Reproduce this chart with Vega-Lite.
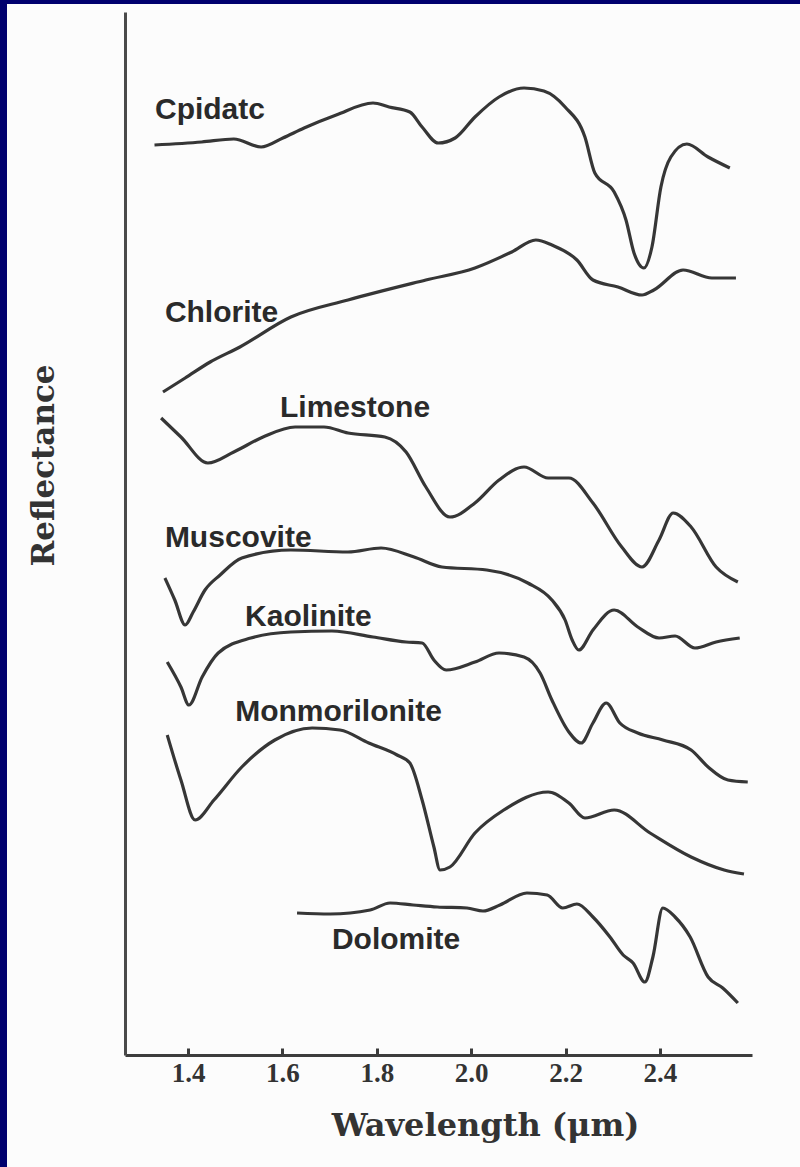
{
  "$schema": "https://vega.github.io/schema/vega-lite/v6.json",
  "width": 793,
  "height": 1163,
  "autosize": {"type": "none"},
  "padding": {"left": 7, "top": 4, "right": 0, "bottom": 0},
  "background": "#00006e",
  "config": {"view": {"fill": "#fcfcfc", "stroke": null}},
  "datasets": {
    "spectra": [
      {"mineral": "Cpidatc", "wavelength": 1.329, "reflectance": 91.0},
      {"mineral": "Cpidatc", "wavelength": 1.429, "reflectance": 91.3},
      {"mineral": "Cpidatc", "wavelength": 1.497, "reflectance": 91.6},
      {"mineral": "Cpidatc", "wavelength": 1.555, "reflectance": 90.8},
      {"mineral": "Cpidatc", "wavelength": 1.601, "reflectance": 91.7},
      {"mineral": "Cpidatc", "wavelength": 1.646, "reflectance": 92.7},
      {"mineral": "Cpidatc", "wavelength": 1.714, "reflectance": 94.0},
      {"mineral": "Cpidatc", "wavelength": 1.792, "reflectance": 95.2},
      {"mineral": "Cpidatc", "wavelength": 1.826, "reflectance": 94.8},
      {"mineral": "Cpidatc", "wavelength": 1.870, "reflectance": 94.3},
      {"mineral": "Cpidatc", "wavelength": 1.896, "reflectance": 92.8},
      {"mineral": "Cpidatc", "wavelength": 1.930, "reflectance": 91.2},
      {"mineral": "Cpidatc", "wavelength": 1.966, "reflectance": 91.7},
      {"mineral": "Cpidatc", "wavelength": 2.008, "reflectance": 93.8},
      {"mineral": "Cpidatc", "wavelength": 2.059, "reflectance": 95.8},
      {"mineral": "Cpidatc", "wavelength": 2.112, "reflectance": 96.7},
      {"mineral": "Cpidatc", "wavelength": 2.154, "reflectance": 96.4},
      {"mineral": "Cpidatc", "wavelength": 2.199, "reflectance": 94.8},
      {"mineral": "Cpidatc", "wavelength": 2.241, "reflectance": 91.8},
      {"mineral": "Cpidatc", "wavelength": 2.262, "reflectance": 88.2},
      {"mineral": "Cpidatc", "wavelength": 2.303, "reflectance": 86.3},
      {"mineral": "Cpidatc", "wavelength": 2.328, "reflectance": 83.5},
      {"mineral": "Cpidatc", "wavelength": 2.345, "reflectance": 80.2},
      {"mineral": "Cpidatc", "wavelength": 2.366, "reflectance": 78.7},
      {"mineral": "Cpidatc", "wavelength": 2.383, "reflectance": 80.8},
      {"mineral": "Cpidatc", "wavelength": 2.402, "reflectance": 86.8},
      {"mineral": "Cpidatc", "wavelength": 2.423, "reflectance": 89.8},
      {"mineral": "Cpidatc", "wavelength": 2.457, "reflectance": 91.1},
      {"mineral": "Cpidatc", "wavelength": 2.502, "reflectance": 89.8},
      {"mineral": "Cpidatc", "wavelength": 2.548, "reflectance": 88.7},

      {"mineral": "Chlorite", "wavelength": 1.347, "reflectance": 66.3},
      {"mineral": "Chlorite", "wavelength": 1.394, "reflectance": 67.7},
      {"mineral": "Chlorite", "wavelength": 1.447, "reflectance": 69.3},
      {"mineral": "Chlorite", "wavelength": 1.510, "reflectance": 70.8},
      {"mineral": "Chlorite", "wavelength": 1.618, "reflectance": 73.8},
      {"mineral": "Chlorite", "wavelength": 1.739, "reflectance": 75.5},
      {"mineral": "Chlorite", "wavelength": 1.904, "reflectance": 77.5},
      {"mineral": "Chlorite", "wavelength": 2.008, "reflectance": 78.7},
      {"mineral": "Chlorite", "wavelength": 2.086, "reflectance": 80.3},
      {"mineral": "Chlorite", "wavelength": 2.137, "reflectance": 81.5},
      {"mineral": "Chlorite", "wavelength": 2.171, "reflectance": 81.0},
      {"mineral": "Chlorite", "wavelength": 2.224, "reflectance": 79.5},
      {"mineral": "Chlorite", "wavelength": 2.258, "reflectance": 77.5},
      {"mineral": "Chlorite", "wavelength": 2.311, "reflectance": 76.8},
      {"mineral": "Chlorite", "wavelength": 2.362, "reflectance": 76.0},
      {"mineral": "Chlorite", "wavelength": 2.387, "reflectance": 76.5},
      {"mineral": "Chlorite", "wavelength": 2.449, "reflectance": 78.5},
      {"mineral": "Chlorite", "wavelength": 2.510, "reflectance": 77.7},
      {"mineral": "Chlorite", "wavelength": 2.561, "reflectance": 77.7},

      {"mineral": "Limestone", "wavelength": 1.343, "reflectance": 63.7},
      {"mineral": "Limestone", "wavelength": 1.385, "reflectance": 61.8},
      {"mineral": "Limestone", "wavelength": 1.442, "reflectance": 59.2},
      {"mineral": "Limestone", "wavelength": 1.497, "reflectance": 60.3},
      {"mineral": "Limestone", "wavelength": 1.559, "reflectance": 61.8},
      {"mineral": "Limestone", "wavelength": 1.627, "reflectance": 62.8},
      {"mineral": "Limestone", "wavelength": 1.688, "reflectance": 62.8},
      {"mineral": "Limestone", "wavelength": 1.739, "reflectance": 62.2},
      {"mineral": "Limestone", "wavelength": 1.817, "reflectance": 61.8},
      {"mineral": "Limestone", "wavelength": 1.862, "reflectance": 60.3},
      {"mineral": "Limestone", "wavelength": 1.904, "reflectance": 56.8},
      {"mineral": "Limestone", "wavelength": 1.955, "reflectance": 53.8},
      {"mineral": "Limestone", "wavelength": 2.008, "reflectance": 55.2},
      {"mineral": "Limestone", "wavelength": 2.059, "reflectance": 57.5},
      {"mineral": "Limestone", "wavelength": 2.112, "reflectance": 58.8},
      {"mineral": "Limestone", "wavelength": 2.163, "reflectance": 57.7},
      {"mineral": "Limestone", "wavelength": 2.207, "reflectance": 57.7},
      {"mineral": "Limestone", "wavelength": 2.258, "reflectance": 55.2},
      {"mineral": "Limestone", "wavelength": 2.319, "reflectance": 50.8},
      {"mineral": "Limestone", "wavelength": 2.362, "reflectance": 48.8},
      {"mineral": "Limestone", "wavelength": 2.398, "reflectance": 51.5},
      {"mineral": "Limestone", "wavelength": 2.428, "reflectance": 54.2},
      {"mineral": "Limestone", "wavelength": 2.466, "reflectance": 52.8},
      {"mineral": "Limestone", "wavelength": 2.519, "reflectance": 48.8},
      {"mineral": "Limestone", "wavelength": 2.565, "reflectance": 47.3},

      {"mineral": "Muscovite", "wavelength": 1.351, "reflectance": 47.7},
      {"mineral": "Muscovite", "wavelength": 1.372, "reflectance": 45.5},
      {"mineral": "Muscovite", "wavelength": 1.394, "reflectance": 43.0},
      {"mineral": "Muscovite", "wavelength": 1.411, "reflectance": 44.3},
      {"mineral": "Muscovite", "wavelength": 1.436, "reflectance": 46.5},
      {"mineral": "Muscovite", "wavelength": 1.468, "reflectance": 48.0},
      {"mineral": "Muscovite", "wavelength": 1.514, "reflectance": 49.7},
      {"mineral": "Muscovite", "wavelength": 1.618, "reflectance": 50.5},
      {"mineral": "Muscovite", "wavelength": 1.739, "reflectance": 50.3},
      {"mineral": "Muscovite", "wavelength": 1.809, "reflectance": 50.7},
      {"mineral": "Muscovite", "wavelength": 1.879, "reflectance": 49.8},
      {"mineral": "Muscovite", "wavelength": 1.938, "reflectance": 48.8},
      {"mineral": "Muscovite", "wavelength": 2.033, "reflectance": 48.5},
      {"mineral": "Muscovite", "wavelength": 2.120, "reflectance": 47.2},
      {"mineral": "Muscovite", "wavelength": 2.171, "reflectance": 45.5},
      {"mineral": "Muscovite", "wavelength": 2.199, "reflectance": 43.5},
      {"mineral": "Muscovite", "wavelength": 2.214, "reflectance": 41.5},
      {"mineral": "Muscovite", "wavelength": 2.228, "reflectance": 40.5},
      {"mineral": "Muscovite", "wavelength": 2.258, "reflectance": 42.5},
      {"mineral": "Muscovite", "wavelength": 2.303, "reflectance": 44.5},
      {"mineral": "Muscovite", "wavelength": 2.353, "reflectance": 42.8},
      {"mineral": "Muscovite", "wavelength": 2.398, "reflectance": 41.7},
      {"mineral": "Muscovite", "wavelength": 2.432, "reflectance": 41.9},
      {"mineral": "Muscovite", "wavelength": 2.474, "reflectance": 40.7},
      {"mineral": "Muscovite", "wavelength": 2.519, "reflectance": 41.3},
      {"mineral": "Muscovite", "wavelength": 2.569, "reflectance": 41.7},

      {"mineral": "Kaolinite", "wavelength": 1.356, "reflectance": 39.3},
      {"mineral": "Kaolinite", "wavelength": 1.385, "reflectance": 36.8},
      {"mineral": "Kaolinite", "wavelength": 1.402, "reflectance": 35.0},
      {"mineral": "Kaolinite", "wavelength": 1.430, "reflectance": 37.8},
      {"mineral": "Kaolinite", "wavelength": 1.464, "reflectance": 40.2},
      {"mineral": "Kaolinite", "wavelength": 1.533, "reflectance": 41.7},
      {"mineral": "Kaolinite", "wavelength": 1.618, "reflectance": 42.3},
      {"mineral": "Kaolinite", "wavelength": 1.705, "reflectance": 42.4},
      {"mineral": "Kaolinite", "wavelength": 1.792, "reflectance": 41.8},
      {"mineral": "Kaolinite", "wavelength": 1.862, "reflectance": 41.3},
      {"mineral": "Kaolinite", "wavelength": 1.896, "reflectance": 41.2},
      {"mineral": "Kaolinite", "wavelength": 1.921, "reflectance": 39.5},
      {"mineral": "Kaolinite", "wavelength": 1.947, "reflectance": 38.5},
      {"mineral": "Kaolinite", "wavelength": 2.008, "reflectance": 39.3},
      {"mineral": "Kaolinite", "wavelength": 2.059, "reflectance": 40.2},
      {"mineral": "Kaolinite", "wavelength": 2.112, "reflectance": 39.8},
      {"mineral": "Kaolinite", "wavelength": 2.146, "reflectance": 38.2},
      {"mineral": "Kaolinite", "wavelength": 2.171, "reflectance": 35.5},
      {"mineral": "Kaolinite", "wavelength": 2.207, "reflectance": 32.3},
      {"mineral": "Kaolinite", "wavelength": 2.233, "reflectance": 31.2},
      {"mineral": "Kaolinite", "wavelength": 2.258, "reflectance": 33.2},
      {"mineral": "Kaolinite", "wavelength": 2.286, "reflectance": 35.2},
      {"mineral": "Kaolinite", "wavelength": 2.315, "reflectance": 33.2},
      {"mineral": "Kaolinite", "wavelength": 2.353, "reflectance": 32.2},
      {"mineral": "Kaolinite", "wavelength": 2.406, "reflectance": 31.5},
      {"mineral": "Kaolinite", "wavelength": 2.466, "reflectance": 30.5},
      {"mineral": "Kaolinite", "wavelength": 2.502, "reflectance": 28.8},
      {"mineral": "Kaolinite", "wavelength": 2.544, "reflectance": 27.5},
      {"mineral": "Kaolinite", "wavelength": 2.586, "reflectance": 27.3},

      {"mineral": "Monmorilonite", "wavelength": 1.356, "reflectance": 32.0},
      {"mineral": "Monmorilonite", "wavelength": 1.385, "reflectance": 27.5},
      {"mineral": "Monmorilonite", "wavelength": 1.415, "reflectance": 23.5},
      {"mineral": "Monmorilonite", "wavelength": 1.455, "reflectance": 25.5},
      {"mineral": "Monmorilonite", "wavelength": 1.514, "reflectance": 28.8},
      {"mineral": "Monmorilonite", "wavelength": 1.584, "reflectance": 31.5},
      {"mineral": "Monmorilonite", "wavelength": 1.663, "reflectance": 32.7},
      {"mineral": "Monmorilonite", "wavelength": 1.722, "reflectance": 32.5},
      {"mineral": "Monmorilonite", "wavelength": 1.783, "reflectance": 31.2},
      {"mineral": "Monmorilonite", "wavelength": 1.843, "reflectance": 30.0},
      {"mineral": "Monmorilonite", "wavelength": 1.870, "reflectance": 29.2},
      {"mineral": "Monmorilonite", "wavelength": 1.896, "reflectance": 25.5},
      {"mineral": "Monmorilonite", "wavelength": 1.921, "reflectance": 20.8},
      {"mineral": "Monmorilonite", "wavelength": 1.934, "reflectance": 18.5},
      {"mineral": "Monmorilonite", "wavelength": 1.955, "reflectance": 18.8},
      {"mineral": "Monmorilonite", "wavelength": 2.008, "reflectance": 22.2},
      {"mineral": "Monmorilonite", "wavelength": 2.069, "reflectance": 24.5},
      {"mineral": "Monmorilonite", "wavelength": 2.163, "reflectance": 26.3},
      {"mineral": "Monmorilonite", "wavelength": 2.207, "reflectance": 25.2},
      {"mineral": "Monmorilonite", "wavelength": 2.241, "reflectance": 23.7},
      {"mineral": "Monmorilonite", "wavelength": 2.303, "reflectance": 24.5},
      {"mineral": "Monmorilonite", "wavelength": 2.379, "reflectance": 22.2},
      {"mineral": "Monmorilonite", "wavelength": 2.466, "reflectance": 19.8},
      {"mineral": "Monmorilonite", "wavelength": 2.536, "reflectance": 18.5},
      {"mineral": "Monmorilonite", "wavelength": 2.578, "reflectance": 18.1},

      {"mineral": "Dolomite", "wavelength": 1.631, "reflectance": 14.2},
      {"mineral": "Dolomite", "wavelength": 1.701, "reflectance": 14.1},
      {"mineral": "Dolomite", "wavelength": 1.786, "reflectance": 14.5},
      {"mineral": "Dolomite", "wavelength": 1.828, "reflectance": 15.2},
      {"mineral": "Dolomite", "wavelength": 1.877, "reflectance": 15.0},
      {"mineral": "Dolomite", "wavelength": 1.928, "reflectance": 14.8},
      {"mineral": "Dolomite", "wavelength": 1.991, "reflectance": 14.7},
      {"mineral": "Dolomite", "wavelength": 2.025, "reflectance": 14.4},
      {"mineral": "Dolomite", "wavelength": 2.061, "reflectance": 15.0},
      {"mineral": "Dolomite", "wavelength": 2.118, "reflectance": 16.2},
      {"mineral": "Dolomite", "wavelength": 2.161, "reflectance": 16.0},
      {"mineral": "Dolomite", "wavelength": 2.194, "reflectance": 14.7},
      {"mineral": "Dolomite", "wavelength": 2.224, "reflectance": 15.1},
      {"mineral": "Dolomite", "wavelength": 2.258, "reflectance": 13.8},
      {"mineral": "Dolomite", "wavelength": 2.294, "reflectance": 11.8},
      {"mineral": "Dolomite", "wavelength": 2.322, "reflectance": 10.0},
      {"mineral": "Dolomite", "wavelength": 2.343, "reflectance": 9.2},
      {"mineral": "Dolomite", "wavelength": 2.368, "reflectance": 7.3},
      {"mineral": "Dolomite", "wavelength": 2.385, "reflectance": 9.8},
      {"mineral": "Dolomite", "wavelength": 2.406, "reflectance": 14.7},
      {"mineral": "Dolomite", "wavelength": 2.432, "reflectance": 13.8},
      {"mineral": "Dolomite", "wavelength": 2.464, "reflectance": 11.8},
      {"mineral": "Dolomite", "wavelength": 2.502, "reflectance": 7.8},
      {"mineral": "Dolomite", "wavelength": 2.533, "reflectance": 6.7},
      {"mineral": "Dolomite", "wavelength": 2.565, "reflectance": 5.2}
    ],
    "labels": [
      {"mineral": "Cpidatc", "wavelength": 1.330, "reflectance": 94.5},
      {"mineral": "Chlorite", "wavelength": 1.351, "reflectance": 74.2},
      {"mineral": "Limestone", "wavelength": 1.595, "reflectance": 64.7},
      {"mineral": "Muscovite", "wavelength": 1.351, "reflectance": 51.7},
      {"mineral": "Kaolinite", "wavelength": 1.521, "reflectance": 43.8},
      {"mineral": "Monmorilonite", "wavelength": 1.500, "reflectance": 34.3},
      {"mineral": "Dolomite", "wavelength": 1.705, "reflectance": 11.5}
    ]
  },
  "encoding": {
    "x": {
      "field": "wavelength",
      "type": "quantitative",
      "scale": {"domain": [1.2665, 2.595], "range": [118, 745], "nice": false, "zero": false},
      "axis": {
        "title": "Wavelength (μm)",
        "values": [1.4, 1.6, 1.8, 2.0, 2.2, 2.4],
        "format": ".1f",
        "offset": -112,
        "grid": false,
        "domainColor": "#3c3c3c",
        "domainWidth": 3,
        "tickColor": "#3c3c3c",
        "tickWidth": 3,
        "tickSize": -7,
        "labelFont": "Liberation Serif",
        "labelFontSize": 27,
        "labelFontWeight": "bold",
        "labelColor": "#333333",
        "labelPadding": 12,
        "labelBaseline": "top",
        "titleFont": "DejaVu Serif",
        "titleFontSize": 32,
        "titleFontWeight": "bold",
        "titleColor": "#333333",
        "titleX": 478,
        "titleY": 70,
        "titleBaseline": "middle",
        "titleAlign": "center"
      }
    },
    "y": {
      "field": "reflectance",
      "type": "quantitative",
      "scale": {"domain": [0, 104.3], "range": [1051, 8], "nice": false, "zero": false},
      "axis": {
        "title": "Reflectance",
        "ticks": false,
        "labels": false,
        "offset": -118,
        "grid": false,
        "domainColor": "#4a4a4a",
        "domainWidth": 3,
        "titleFont": "DejaVu Serif",
        "titleFontSize": 31,
        "titleFontWeight": "bold",
        "titleColor": "#333333",
        "titleX": -81,
        "titleY": 461,
        "titleBaseline": "middle",
        "titleAlign": "center",
        "titleAngle": -90
      }
    }
  },
  "layer": [
    {
      "data": {"name": "spectra"},
      "mark": {"type": "line", "interpolate": "monotone", "color": "#363636", "strokeWidth": 3.2},
      "encoding": {"detail": {"field": "mineral"}}
    },
    {
      "data": {"name": "labels"},
      "mark": {"type": "text", "align": "left", "baseline": "middle", "font": "Liberation Sans", "fontSize": 30, "fontWeight": "bold", "color": "#2a2a2a"},
      "encoding": {"text": {"field": "mineral"}}
    }
  ]
}
